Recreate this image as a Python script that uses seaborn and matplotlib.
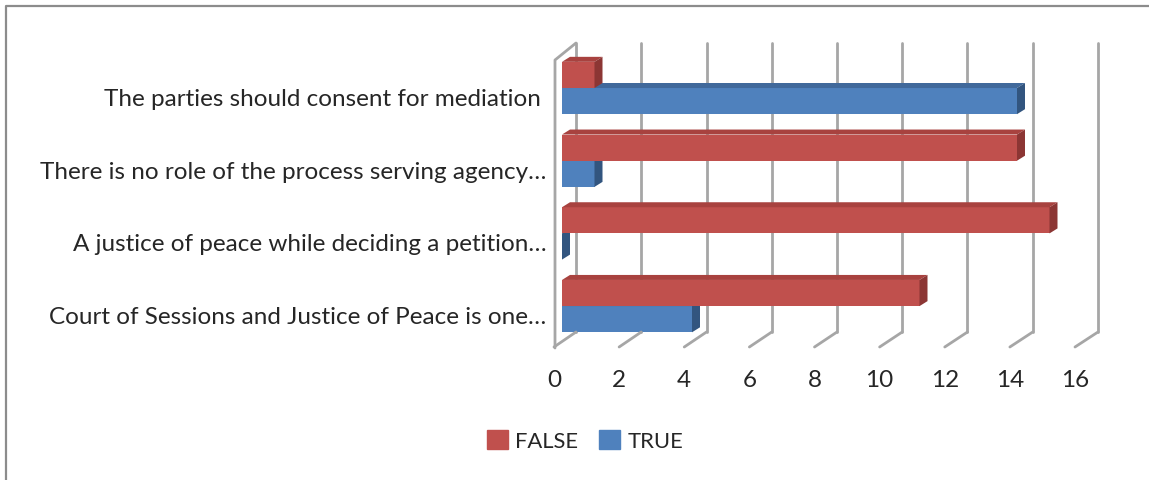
import matplotlib.pyplot as plt
import seaborn as sns
import pandas as pd
import matplotlib.transforms as mtransforms
from matplotlib.patches import Polygon, Patch
from matplotlib.lines import Line2D

# Data
statements = [
    "The parties should consent for mediation ",
    "There is no role of the process serving agency…",
    "A justice of peace while deciding a petition…",
    "Court of Sessions and Justice of Peace is one…",
]
answers = ["FALSE", "TRUE"]
false_counts = [1, 14, 15, 11]
true_counts = [14, 1, 0, 4]
ticks = list(range(0, 17, 2))

df = pd.DataFrame({
    "statement": statements * 2,
    "answer": ["FALSE"] * 4 + ["TRUE"] * 4,
    "count": false_counts + true_counts,
})

colors = {"FALSE": "#C0504D", "TRUE": "#4F81BD"}
shades = {"FALSE": ("#A8423F", "#8C3634"), "TRUE": ("#41699B", "#32557F")}

W, H = 1149, 480
sns.set_style("white")
plt.rcParams['font.family'] = ['Lato', 'DejaVu Sans']

fig = plt.figure(figsize=(W / 100, H / 100), dpi=100)


def box(x0, y0, x1, y1):
    # pixel box (top-left origin) -> figure fraction
    return [x0 / W, 1 - y1 / H, (x1 - x0) / W, (y1 - y0) / H]


def fpt(x, y):
    return x / W, 1 - y / H


# back wall with gridlines
wall = fig.add_axes(box(576, 43, 1098, 332))
wall.set_xlim(0, 16)
wall.set_xticks(ticks)
wall.set_yticks([])
wall.grid(axis='x', color='#a6a6a6', lw=2)
for gl in wall.get_xgridlines():
    gl.set_clip_on(False)
wall.tick_params(length=0, labelbottom=False)
sns.despine(ax=wall, left=True, bottom=True)

# front edge of the floor, carries the value labels
front = fig.add_axes(box(554, 347, 1075, 348))
front.set_xlim(0, 16)
front.set_xticks(ticks)
front.set_yticks([])
front.tick_params(length=0, pad=16, labelsize=17.5)
front.patch.set_alpha(0)
sns.despine(ax=front, left=True, bottom=True)

# floor diagonals joining back gridlines to the front edge
inv = fig.transFigure.inverted()
for v in ticks:
    b = inv.transform(wall.transData.transform((v, 0)))
    f = inv.transform(front.transData.transform((v, 1)))
    fig.add_artist(Line2D([b[0], f[0]], [b[1], f[1]], color='#a6a6a6', lw=2,
                          transform=fig.transFigure))

# left wall
lx, ly = zip(fpt(555, 348), fpt(555, 60), fpt(576, 43))
fig.add_artist(Line2D(lx, ly, color='#a6a6a6', lw=2, transform=fig.transFigure))

# bars
ax = fig.add_axes(box(562, 43, 1082, 348))
ax.patch.set_alpha(0)
sns.barplot(data=df, y='statement', x='count', hue='answer', order=statements,
            hue_order=answers, palette=colors, width=0.72, orient='h',
            saturation=1, linewidth=0, legend=False, ax=ax)
ax.set_xlim(0, 16)
ax.set_ylim(3.576, -0.619)
ax.set_xlabel('')
ax.set_ylabel('')
ax.set_xticks([])
sns.despine(ax=ax, left=True, bottom=True)
ax.tick_params(axis='y', length=0, pad=11, labelsize=17.5)
shift = mtransforms.ScaledTranslation(0, -9.5 / 100, fig.dpi_scale_trans)
for lbl in ax.get_yticklabels():
    lbl.set_transform(lbl.get_transform() + shift)

# fake 3D faces
dx, dy = 8 / 32.5, 5 / 72.7
for i, (level, cont) in enumerate(zip(answers, ax.containers)):
    top_c, side_c = shades[level]
    z = 4 - i
    for bar in cont:
        bar.set_zorder(z)
        x0 = bar.get_x()
        x1 = x0 + bar.get_width()
        yt = min(bar.get_y(), bar.get_y() + bar.get_height())
        yb = max(bar.get_y(), bar.get_y() + bar.get_height())
        ax.add_patch(Polygon([(x0, yt), (x0 + dx, yt - dy), (x1 + dx, yt - dy), (x1, yt)],
                             closed=True, fc=top_c, ec='none', zorder=z, clip_on=False))
        ax.add_patch(Polygon([(x1, yt), (x1 + dx, yt - dy), (x1 + dx, yb - dy), (x1, yb)],
                             closed=True, fc=side_c, ec='none', zorder=z, clip_on=False))

# legend
handles = [Patch(color=colors[a]) for a in answers]
fig.legend(handles, answers, loc='center', bbox_to_anchor=fpt(585, 441), ncol=2,
           frameon=False, handlelength=0.95, handleheight=0.95, handletextpad=0.35,
           columnspacing=0.95, fontsize=15.8)

# chart frame (left and top edges visible)
fx, fy = zip(fpt(6, 480), fpt(6, 6), fpt(1149, 6))
fig.add_artist(Line2D(fx, fy, color='#8c8c8c', lw=1.6, transform=fig.transFigure))

fig.savefig('out.png', dpi=100)
